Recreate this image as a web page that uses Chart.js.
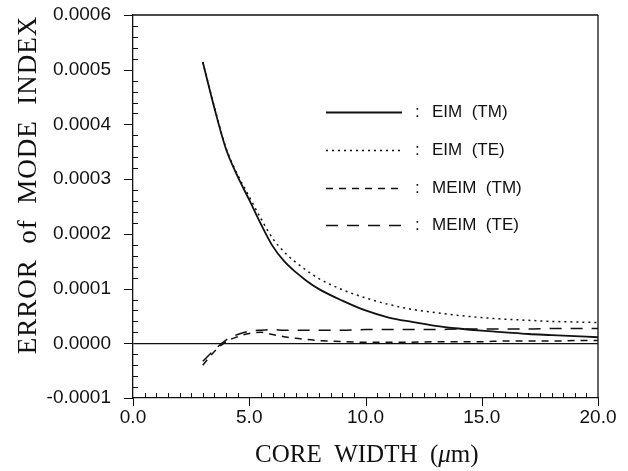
<!DOCTYPE html>
<html>
<head>
<meta charset="utf-8">
<script src="https://cdn.jsdelivr.net/npm/chart.js@4"></script>
<style>
  html, body { margin: 0; padding: 0; background: #fff; }
  #wrap { width: 628px; height: 471px; }
</style>
</head>
<body>
<div id="wrap"><canvas id="modeChart" width="628" height="471"></canvas></div>
<script>
// core width (um)
const coreWidth = [3, 3.5, 4, 4.5, 5, 5.5, 6, 6.5, 7, 7.5, 8, 9, 10, 11, 12, 13, 14, 15, 16, 17, 18, 19, 20];

const eimTM = [0.000514, 0.000430, 0.000355, 0.000305, 0.000262, 0.000218, 0.000178, 0.000150, 0.000130, 0.000113, 0.000099,
    0.000078, 0.000060, 0.000047, 0.000039, 0.000032, 0.000027, 0.000023, 0.000020, 0.000017, 0.000015, 0.000013, 0.000011];
const eimTE = [0.000514, 0.000432, 0.000357, 0.000308, 0.000268, 0.000228, 0.000192, 0.000167, 0.000148, 0.000132, 0.000118,
    0.000098, 0.000083, 0.000071, 0.000062, 0.000056, 0.000051, 0.000047, 0.000044, 0.000042, 0.000040, 0.000039, 0.000038];
const meimTM = [-0.000040, -0.000015, 0.000003, 0.000012, 0.000018, 0.000020, 0.000016, 0.000012, 0.000009, 0.000007, 0.000005,
    0.000003, 0.000002, 0.000002, 0.000002, 0.000003, 0.000003, 0.000003, 0.000004, 0.000004, 0.000004, 0.000005, 0.000005];
const meimTE = [-0.000033, -0.000012, 0.000006, 0.000016, 0.000022, 0.000024, 0.000025, 0.000024, 0.000024, 0.000024, 0.000024,
    0.000024, 0.000025, 0.000025, 0.000025, 0.000025, 0.000026, 0.000026, 0.000026, 0.000026, 0.000027, 0.000027, 0.000027];

const seriesNames = ['EIM  (TM)', 'EIM  (TE)', 'MEIM  (TM)', 'MEIM  (TE)'];
const xTicks = [0, 5, 10, 15, 20];
const yTicks = [-0.0001, 0, 0.0001, 0.0002, 0.0003, 0.0004, 0.0005, 0.0006];

function pts(vals) {
    return vals.map((v, i) => ({ x: coreWidth[i], y: v }));
}

const dashes = [[], [2, 4], [7, 6], [12, 9]];
const allSeries = [eimTM, eimTE, meimTM, meimTE];

const datasets = allSeries.map((vals, i) => ({
    label: seriesNames[i],
    data: pts(vals),
    borderColor: '#111',
    borderWidth: i === 0 ? 1.8 : 1.5,
    borderDash: dashes[i],
    pointRadius: 0,
    fill: false,
    cubicInterpolationMode: 'monotone'
}));

// frame, ticks (major out, minor in), legend and axis titles
const decor = {
    id: 'decor',
    afterDraw(chart) {
        const ctx = chart.ctx;
        const a = chart.chartArea;
        const xs = chart.scales.x, ys = chart.scales.y;
        ctx.save();
        ctx.strokeStyle = '#111';
        ctx.lineWidth = 1.3;
        ctx.beginPath();
        ctx.moveTo(a.left, a.top); ctx.lineTo(a.right, a.top);
        ctx.moveTo(a.right, a.top); ctx.lineTo(a.right, a.bottom);
        ctx.stroke();

        ctx.lineWidth = 1;
        ctx.beginPath();
        for (let k = 0; k <= 35; k++) {
            const v = -0.0001 + k * 0.00002;
            const y = Math.round(ys.getPixelForValue(v)) + 0.5;
            if (k % 5 === 0) {
                ctx.moveTo(a.left - 9, y); ctx.lineTo(a.left, y);
            } else {
                ctx.moveTo(a.left, y); ctx.lineTo(a.left + 5, y);
            }
        }
        for (let k = 0; k <= 40; k++) {
            const x = Math.round(xs.getPixelForValue(k * 0.5)) + 0.5;
            if (k % 10 === 0) {
                ctx.moveTo(x, a.bottom); ctx.lineTo(x, a.bottom + 8);
            } else {
                ctx.moveTo(x, a.bottom); ctx.lineTo(x, a.bottom - 5);
            }
        }
        ctx.stroke();

        // legend
        const rows = [112, 150, 188, 225];
        ctx.font = '17px "Liberation Sans", Arial, sans-serif';
        ctx.fillStyle = '#111';
        ctx.textBaseline = 'middle';
        chart.data.datasets.forEach((ds, i) => {
            const y = rows[i] + 0.5;
            ctx.setLineDash(ds.borderDash);
            ctx.lineWidth = ds.borderWidth;
            ctx.beginPath();
            ctx.moveTo(326, y); ctx.lineTo(402, y);
            ctx.stroke();
            ctx.setLineDash([]);
            ctx.textAlign = 'left';
            ctx.fillText(':', 415, rows[i]);
            ctx.fillText(ds.label, 432, rows[i]);
        });

        // y title
        ctx.save();
        ctx.translate(29, 185);
        ctx.rotate(-Math.PI / 2);
        ctx.textAlign = 'center';
        ctx.font = '27px "Liberation Serif", "Times New Roman", serif';
        ctx.letterSpacing = '1px';
        ctx.fillText('ERROR  of  MODE  INDEX', 0, 0);
        ctx.restore();

        // x title
        ctx.textAlign = 'left';
        ctx.font = '25px "Liberation Serif", "Times New Roman", serif';
        let x0 = 255;
        const p1 = 'CORE  WIDTH  (';
        ctx.fillText(p1, x0, 455);
        x0 += ctx.measureText(p1).width;
        ctx.font = 'italic 25px "Liberation Serif", "Times New Roman", serif';
        ctx.fillText('\u03bc', x0, 455);
        x0 += ctx.measureText('\u03bc').width;
        ctx.font = '25px "Liberation Serif", "Times New Roman", serif';
        ctx.fillText('m)', x0, 455);
        ctx.restore();
    }
};

const ctx = document.getElementById('modeChart').getContext('2d');
new Chart(ctx, {
    type: 'line',
    data: { datasets: datasets },
    plugins: [decor],
    options: {
        responsive: false,
        animation: false,
        layout: { padding: { left: 0, top: 15, right: 30, bottom: 0 } },
        plugins: { legend: { display: false }, tooltip: { enabled: false } },
        scales: {
            x: {
                type: 'linear',
                min: 0, max: 20,
                afterFit: s => { s.height = 73; s.paddingLeft = 0; s.paddingRight = 0; },
                afterBuildTicks: s => { s.ticks = xTicks.map(v => ({ value: v })); },
                grid: { display: false },
                border: { display: true, color: '#111', width: 1.3 },
                ticks: {
                    color: '#111',
                    padding: 0,
                    font: { family: '"Liberation Sans", Arial, sans-serif', size: 19 },
                    callback: v => v.toFixed(1)
                }
            },
            y: {
                type: 'linear',
                min: -0.0001, max: 0.0006,
                afterFit: s => { s.width = 133; s.paddingTop = 0; s.paddingBottom = 0; },
                afterBuildTicks: s => { s.ticks = yTicks.map(v => ({ value: v })); },
                grid: {
                    drawTicks: false,
                    color: c => Math.abs(c.tick.value) < 1e-12 ? '#111' : 'rgba(0,0,0,0)',
                    lineWidth: 1.3
                },
                border: { display: true, color: '#111', width: 1.3 },
                ticks: {
                    color: '#111',
                    padding: 22,
                    font: { family: '"Liberation Sans", Arial, sans-serif', size: 19 },
                    callback: v => v.toFixed(4)
                }
            }
        }
    }
});
</script>
</body>
</html>
